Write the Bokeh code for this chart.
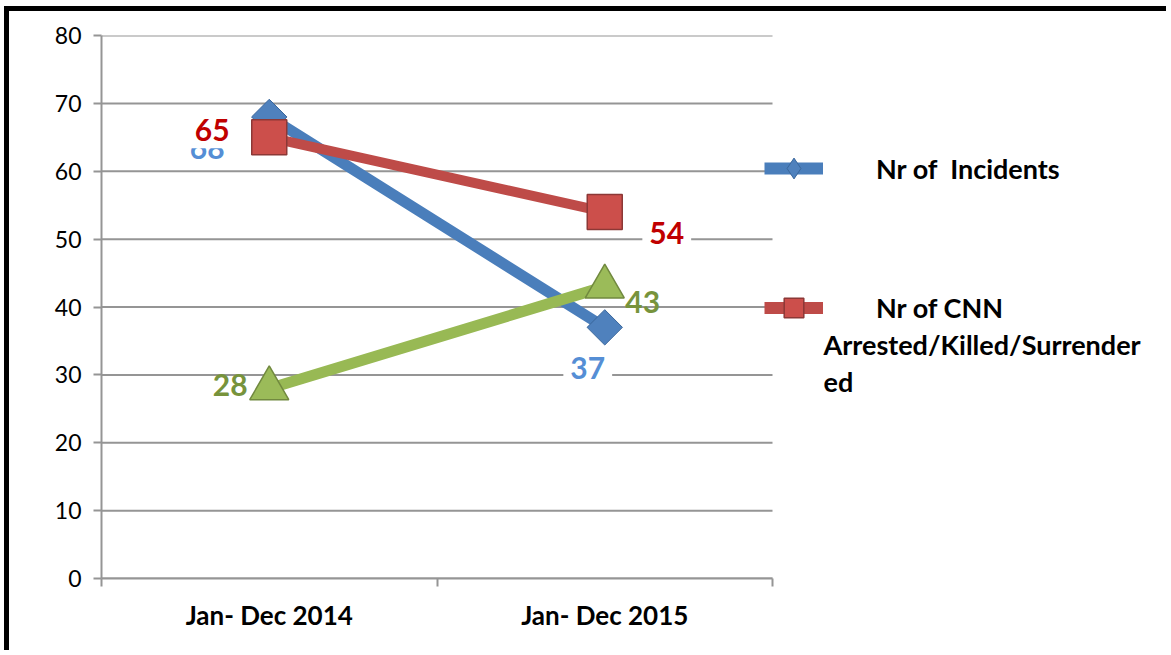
import math
from bokeh.plotting import figure
from bokeh.models import (Range1d, FixedTicker, Legend, LegendItem, Label)
from bokeh.core.properties import value
from bokeh.embed import file_html
from bokeh.resources import INLINE

# ---------------- data ----------------
categories = ["Jan- Dec 2014", "Jan- Dec 2015"]
incidents = [68, 37]
cnn_arrested = [65, 54]
third_series = [28, 43]
legend_incidents = "Nr of  Incidents"
legend_cnn_lines = ["Nr of CNN", "Arrested/Killed/Surrender", "ed"]
y_ticks = [0, 10, 20, 30, 40, 50, 60, 70, 80]

# ---------------- geometry / style ----------------
OX, OY = 9, 11                      # canvas origin on the page (after border)
W, H = 1171 - OX, 655 - OY
PLOT_L, PLOT_R, PLOT_T, PLOT_B = 101, 772, 35, 578   # plot area in page px
FL, FT, FB = PLOT_L - OX, PLOT_T - OY, PLOT_B - OY
FONT = "Lato"
GRID = "#959595"
line_cols = ["#4A7EBB", "#BE4B48", "#98B954"]
label_cols = ["#558ED5", "#C00000", "#77933C"]

ncat = len(categories)
xs = [i + 0.5 for i in range(ncat)]
x_end = ncat * (W - FL) / (PLOT_R - PLOT_L)   # frame extends over legend area

p = figure(width=W, height=H, x_range=Range1d(0, x_end),
           y_range=Range1d(y_ticks[0], y_ticks[-1]),
           output_backend="svg", toolbar_location=None,
           min_border_left=FL, min_border_right=0,
           min_border_top=FT, min_border_bottom=H - FB,
           styles={"border-left": "5px solid black", "border-top": "5px solid black",
                   "margin-left": "4px", "margin-top": "6px"})
p.outline_line_color = None
p.background_fill_color = "white"
p.border_fill_color = "white"

# axes
p.xaxis.bounds = (0, ncat)
p.xaxis.ticker = FixedTicker(ticks=xs, minor_ticks=list(range(ncat + 1)))
p.xaxis.major_label_overrides = {x: c for x, c in zip(xs, categories)}
p.xaxis.major_tick_out = 0
p.xaxis.major_tick_in = 0
p.xaxis.minor_tick_out = 8
p.xaxis.minor_tick_in = 0
p.xaxis.minor_tick_line_color = GRID
p.xaxis.minor_tick_line_width = 2
p.xaxis.axis_line_color = GRID
p.xaxis.axis_line_width = 2
p.xaxis.major_label_text_font = FONT
p.xaxis.major_label_text_font_style = "bold"
p.xaxis.major_label_text_font_size = "26px"
p.xaxis.major_label_text_color = "black"
p.xaxis.major_label_standoff = 12

p.yaxis.ticker = FixedTicker(ticks=y_ticks)
p.yaxis.major_tick_out = 8
p.yaxis.major_tick_in = 0
p.yaxis.minor_tick_out = 0
p.yaxis.minor_tick_in = 0
p.yaxis.major_tick_line_color = GRID
p.yaxis.major_tick_line_width = 2
p.yaxis.axis_line_color = GRID
p.yaxis.axis_line_width = 2
p.yaxis.major_label_text_font = FONT
p.yaxis.major_label_text_font_size = "23px"
p.yaxis.major_label_text_color = "black"
p.yaxis.major_label_standoff = 12

p.grid.visible = False
# horizontal gridlines limited to the plot area (from the tick list)
p.segment(x0=0, x1=ncat, y0=y_ticks, y1=y_ticks, line_color=GRID,
          line_width=2, level="underlay")

# ---------------- series ----------------
b_line = p.line(xs, incidents, line_color=line_cols[0], line_width=11,
                line_join="round", line_cap="round")
b_mark = p.scatter(xs, incidents, marker="square", angle=math.pi / 4, size=25,
                   fill_color="#4F81BD", line_color="#3A679C", line_width=1)
r_line = p.line(xs, cnn_arrested, line_color=line_cols[1], line_width=10,
                line_join="round", line_cap="round")
r_mark = p.scatter(xs, cnn_arrested, marker="square", size=35,
                   fill_color="#CC4F4B", line_color="#8C3836", line_width=1.5)
g_line = p.line(xs, third_series, line_color=line_cols[2], line_width=11,
                line_join="round", line_cap="round")
g_mark = p.scatter(xs, third_series, marker="triangle", size=39,
                   fill_color="#9BBB59", line_color="#71893F", line_width=1.5)

# legend-only samples (no data drawn)
b_legend_line = p.line(x=[math.nan, math.nan], y=[math.nan, math.nan],
                       line_color=line_cols[0], line_width=12)
r_legend_line = p.line(x=[math.nan, math.nan], y=[math.nan, math.nan],
                       line_color=line_cols[1], line_width=12)
b_legend_mark = p.scatter(x=[math.nan], y=[math.nan], marker="diamond", size=20,
                          fill_color="#4F81BD", line_color="#3A679C", line_width=1)

# data labels
def data_labels(ys, color, xoff, yoff, bg):
    kw = dict(text_font=value(FONT), text_font_style="bold",
              text_font_size="30px", text_color=color,
              text_align="center", text_baseline="middle",
              x_offset=xoff, y_offset=yoff)
    if bg:
        kw.update(background_fill_color="white", padding=7)
    p.text(xs, ys, text=[str(v) for v in ys], **kw)

data_labels(incidents, label_cols[0], [-62, -17], [31, 41], True)
data_labels(cnn_arrested, label_cols[1], [-57, 62], [-7, 21], True)
data_labels(third_series, label_cols[2], [-39, 38], [-3, 15], False)

# ---------------- legend ----------------
LEG_FONT = "27px"
def make_legend(label, renderers, gh, vy):
    lg = Legend(items=[LegendItem(label=label, renderers=renderers)],
                location=(663, vy), glyph_width=59, glyph_height=gh,
                label_standoff=53, label_height=gh, padding=0, margin=0,
                border_line_color=None, background_fill_alpha=0,
                label_text_font=FONT, label_text_font_style="bold",
                label_text_font_size=LEG_FONT, label_text_color="black")
    p.add_layout(lg)

make_legend(legend_incidents, [b_legend_line, b_legend_mark], 52, 384)
make_legend(legend_cnn_lines[0], [r_legend_line, r_mark], 49, 246)
for txt, vy in zip(legend_cnn_lines[1:], [234, 197]):
    p.add_layout(Label(x=722, y=vy, x_units="screen", y_units="screen", text=txt,
                       text_font=FONT, text_font_style="bold",
                       text_font_size=LEG_FONT, text_color="black",
                       text_align="left", text_baseline="middle"))

open("out.html", "w").write(file_html(p, INLINE))
